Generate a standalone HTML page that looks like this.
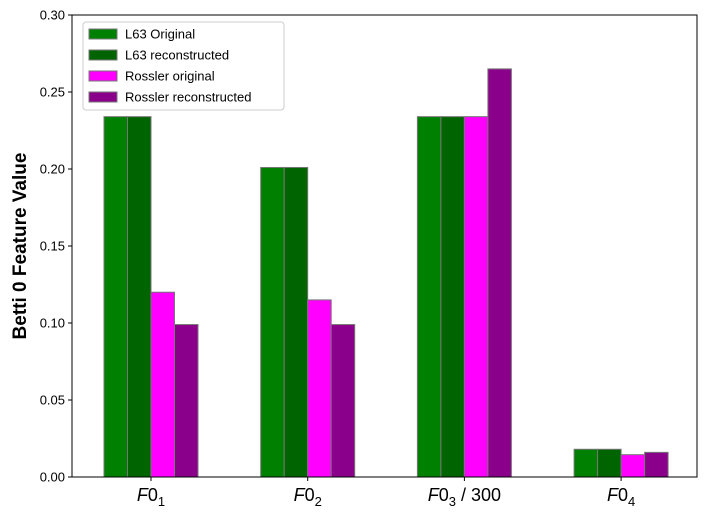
<!DOCTYPE html>
<html><head><meta charset="utf-8"><style>
body{margin:0;background:#fff;}
svg{font-family:"Liberation Sans","DejaVu Sans",sans-serif;}
</style></head><body>
<svg id="chart" width="706" height="518" xmlns="http://www.w3.org/2000/svg">
<rect x="0" y="0" width="706" height="518" fill="#fff"/>
<g id="bars"></g>
<g id="axes"></g>
<text x="26" y="246" transform="rotate(-90 26 246)" text-anchor="middle" font-size="19" font-weight="bold">Betti 0 Feature Value</text>
<g id="legend"></g>
</svg>
<script>
const categories = ["F0_1","F0_2","F0_3 / 300","F0_4"];
const seriesNames = ["L63 Original","L63 reconstructed","Rossler original","Rossler reconstructed"];
const l63Original = [0.234,0.201,0.234,0.018];
const l63Reconstructed = [0.234,0.201,0.234,0.018];
const rosslerOriginal = [0.120,0.115,0.234,0.0145];
const rosslerReconstructed = [0.099,0.099,0.265,0.016];
const yTicks = [0,0.05,0.10,0.15,0.20,0.25,0.30];
const yTickLabels = ["0.00","0.05","0.10","0.15","0.20","0.25","0.30"];

const colors = ["#008000","#006400","#ff00ff","#8b008b"];
const series = [l63Original,l63Reconstructed,rosslerOriginal,rosslerReconstructed];
const NS="http://www.w3.org/2000/svg";
const L=72,R=697,T=15,B=477;
const yMax=0.30;
function y(v){return B-(v/yMax)*(B-T);}
const gStart=151, gStep=156.7, bw=23.5;
function xCenter(i){return gStart+i*gStep;}
function mk(tag,attrs,parent){const e=document.createElementNS(NS,tag);for(const k in attrs)e.setAttribute(k,attrs[k]);parent.appendChild(e);return e;}

const bars=document.getElementById('bars');
series.forEach((s,si)=>{
  s.forEach((v,ci)=>{
    const x=xCenter(ci)-2*bw+si*bw;
    const r=mk('rect',{x:x,y:y(v),width:bw,height:B-y(v),fill:colors[si],stroke:'#777','stroke-width':1},bars);
    
    
  });
});

const axes=document.getElementById('axes');
const fr=mk('rect',{x:L,y:T,width:R-L,height:B-T,fill:'none',stroke:'#000','stroke-width':1},axes);


yTicks.forEach((t,i)=>{
  const yy=y(t);
  mk('line',{x1:L-4,x2:L,y1:yy,y2:yy,stroke:'#000'},axes);
  const tx=mk('text',{x:L-7,y:yy+4.5,'text-anchor':'end','font-size':13},axes);
  tx.textContent=yTickLabels[i];
  
  
});
categories.forEach((c,i)=>{
  const xx=xCenter(i);
  mk('line',{x1:xx,x2:xx,y1:B,y2:B+4,stroke:'#000'},axes);
  const parts=c.split(' / ');
  const sub=parts[0].split('_')[1];
  const tx=mk('text',{x:xx,y:B+24,'text-anchor':'middle','font-size':18},axes);
  
  
  const a=document.createElementNS(NS,'tspan');a.setAttribute('font-style','italic');a.textContent='F';tx.appendChild(a);
  const b=document.createElementNS(NS,'tspan');b.textContent='0';tx.appendChild(b);
  const s=document.createElementNS(NS,'tspan');s.setAttribute('font-size','13');s.setAttribute('dy','5');s.textContent=sub;tx.appendChild(s);
  if(parts[1]){const d=document.createElementNS(NS,'tspan');d.setAttribute('dy','-5');d.textContent=' / '+parts[1];tx.appendChild(d);}
});

const lg=document.getElementById('legend');
mk('rect',{x:83,y:22,width:201,height:88,rx:3,fill:'#fff',stroke:'#ccc'},lg);
seriesNames.forEach((n,i)=>{
  const yy=34+i*21;
  const p=mk('rect',{x:89,y:yy-5,width:28,height:10,fill:colors[i],stroke:'#777'},lg);
  
  
  const t=mk('text',{x:125,y:yy+4.5,'font-size':13},lg);
  t.textContent=n;
  
  
});
</script>
</body></html>
